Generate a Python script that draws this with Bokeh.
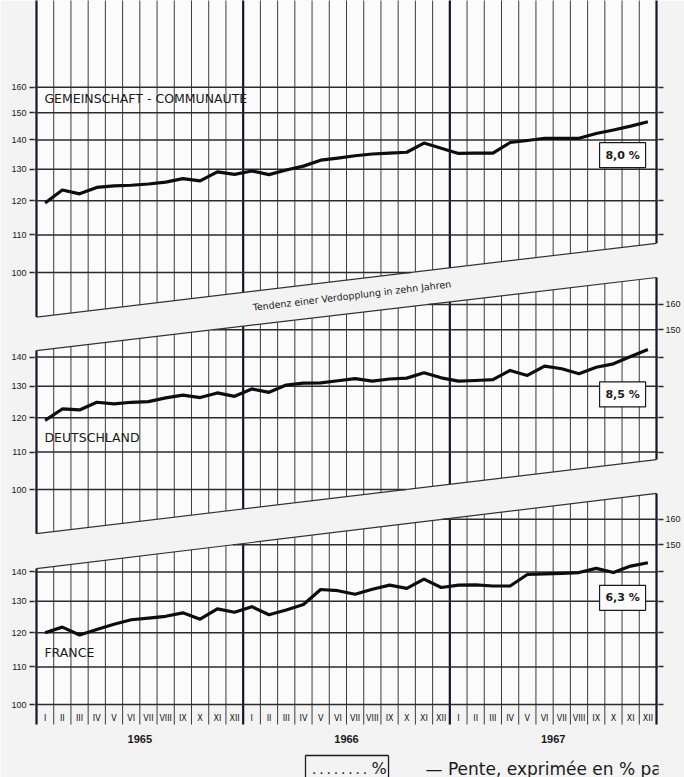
import math
from bokeh.plotting import figure
from bokeh.models import Range1d, FixedTicker, LinearAxis, Label
from bokeh.core.properties import value
from bokeh.embed import file_html
from bokeh.resources import INLINE

# ---------------- data ----------------
months = ["I", "II", "III", "IV", "V", "VI", "VII", "VIII", "IX", "X", "XI", "XII"] * 3
years = ["1965", "1966", "1967"]

gemeinschaft = [119.3, 123.3, 122.1, 124.1, 124.6, 124.8, 125.2, 125.8, 126.9, 126.2, 129.1, 128.3,
                129.4, 128.2, 129.7, 131.0, 133.0, 133.7, 134.5, 135.1, 135.4, 135.7, 138.9, 137.1,
                135.3, 135.4, 135.4, 139.1, 139.8, 140.6, 140.6, 140.6, 142.3, 143.6, 145.0, 146.6]
deutschland = [119.2, 122.7, 122.4, 124.8, 124.3, 124.8, 125.0, 126.2, 127.1, 126.3, 127.8, 126.7,
               129.1, 128.0, 130.4, 131.0, 131.1, 131.8, 132.5, 131.7, 132.4, 132.7, 134.5, 132.8,
               131.7, 131.9, 132.2, 135.3, 133.6, 136.8, 135.9, 134.2, 136.4, 137.6, 140.2, 142.7]
france = [120.0, 121.7, 119.3, 121.0, 122.6, 124.0, 124.5, 125.1, 126.2, 124.2, 127.5, 126.4,
          128.2, 125.6, 127.1, 128.9, 133.9, 133.5, 132.3, 134.0, 135.4, 134.3, 137.5, 134.6,
          135.4, 135.5, 135.1, 135.1, 139.1, 139.3, 139.5, 139.8, 141.3, 139.8, 142.1, 143.3]
series = [gemeinschaft, deutschland, france]

panel_names = ["GEMEINSCHAFT - COMMUNAUTE", "DEUTSCHLAND", "FRANCE"]
panel_name_level = [155.5, 114.1, 114.1]
slope_labels = ["8,0 %", "8,5 %", "6,3 %"]
slope_label_level = [134.7, 127.3, 131.1]

grid_levels = [100, 110, 120, 130, 140, 150, 160]
left_labels = [[100, 110, 120, 130, 140, 150, 160], [100, 110, 120, 130, 140], [100, 110, 120, 130, 140]]
right_labels = [[], [150, 160], [150, 160]]

# slanted panel edges ("Tendenz einer Verdopplung in zehn Jahren"), value at start / end of period
lower_edge = [[89.3, 107.7], [89.4, 107.9], [100.0, 100.0]]
upper_edge = [None, [142.3, 171.3], [141.2, 170.9]]

trend_text = "Tendenz einer Verdopplung in zehn Jahren"
legend_dots = ".\u2009.\u2009.\u2009.\u2009.\u2009.\u2009.\u2009."
legend_pct = "%"
legend_text = "\u2014 Pente, exprimée en % par an"

# ---------------- layout constants ----------------
N = 36
X0, X1 = -0.116, 36.116
Y_TOP, Y_BOT = 0.29989, -0.55678
panel_shift = [0.0, -0.2393, -0.4763]
LABEL_ROW_BOTTOM = -0.4984
MONTH_Y = -0.4917
YEAR_Y = -0.5138
LEGEND_Y = -0.5469
LEGEND_TOP = -0.5325

INK = "#1a1a1a"
GRID = "#2b2b2b"
VLINE = "#3c3c3c"


def Y(v, k):
    return math.log10(v / 100.0) + panel_shift[k]


def edge_log(edge, x):
    l0, l1 = math.log10(edge[0] / 100.0), math.log10(edge[1] / 100.0)
    return l0 + (l1 - l0) * x / N


p = figure(width=684, height=777, x_range=Range1d(X0, X1), y_range=Range1d(Y_BOT, Y_TOP),
           output_backend="svg", toolbar_location=None,
           x_axis_location=None, y_axis_location=None,
           min_border_left=34, min_border_right=26, min_border_top=0, min_border_bottom=0)
p.grid.visible = False
p.outline_line_color = None
p.background_fill_color = "#f3f3f3"
p.border_fill_color = "#f3f3f3"

# ---------------- panel fills ----------------
for k in range(3):
    lo = lower_edge[k]
    by = [math.log10(lo[0] / 100) + panel_shift[k], math.log10(lo[1] / 100) + panel_shift[k]]
    if upper_edge[k] is None:
        ty = [Y_TOP + 0.01, Y_TOP + 0.01]
    else:
        up = upper_edge[k]
        ty = [math.log10(up[0] / 100) + panel_shift[k], math.log10(up[1] / 100) + panel_shift[k]]
    p.patch([0, N, N, 0], [by[0], by[1], ty[1], ty[0]], fill_color="#fbfbfb", line_color=None)

# ---------------- vertical month lines ----------------
vx, vy, vw, vc = [], [], [], []
for k in range(3):
    for m in range(N + 1):
        if k == 2:
            bottom = LABEL_ROW_BOTTOM
        else:
            bottom = edge_log(lower_edge[k], m) + panel_shift[k]
        if upper_edge[k] is None:
            top = Y_TOP + 0.01
        else:
            top = edge_log(upper_edge[k], m) + panel_shift[k]
        heavy = m in (0, 12, 24, 36)
        vx.append([m, m])
        vy.append([bottom, top])
        vw.append(2.2 if heavy else 1.0)
        vc.append("#15152a" if heavy else VLINE)
p.multi_line(vx, vy, line_width=vw, line_color=vc)

# ---------------- horizontal grid lines ----------------
hx, hy = [], []
right_ticks, left_ticks = [], []
for k in range(3):
    for v in grid_levels:
        L = math.log10(v / 100.0)
        lo = lower_edge[k]
        l0, l1 = math.log10(lo[0] / 100), math.log10(lo[1] / 100)
        xmin, xmax = 0.0, float(N)
        if l1 != l0:
            xmax = min(xmax, N * (L - l0) / (l1 - l0))
        elif L < l0:
            continue
        if upper_edge[k] is not None:
            up = upper_edge[k]
            u0, u1 = math.log10(up[0] / 100), math.log10(up[1] / 100)
            xmin = max(xmin, N * (L - u0) / (u1 - u0))
        if xmax <= xmin:
            continue
        if xmin == 0.0:
            xmin = X0
            left_ticks.append((k, v))
        if xmax == float(N):
            xmax = X1
            right_ticks.append((k, v))
        hx.append([xmin, xmax])
        hy.append([Y(v, k), Y(v, k)])
p.multi_line(hx, hy, line_width=1.5, line_color=GRID)

# ---------------- slanted edges ----------------
ex, ey = [], []
for k in range(3):
    for edge in (lower_edge[k] if k < 2 else None, upper_edge[k]):
        if edge is None:
            continue
        ex.append([0, N])
        ey.append([math.log10(edge[0] / 100) + panel_shift[k], math.log10(edge[1] / 100) + panel_shift[k]])
p.multi_line(ex, ey, line_width=1.2, line_color="#333333")

# ---------------- data lines ----------------
xs = [m + 0.5 for m in range(N)]
for k, s in enumerate(series):
    p.line(xs, [Y(v, k) for v in s], line_width=3.2, line_color="#0d0d0d", line_join="round")

# ---------------- slope boxes ----------------
for k in range(3):
    yy = Y(slope_label_level[k], k)
    p.rect(x=[34.03], y=[yy], width=46, height=25, width_units="screen", height_units="screen",
           fill_color="#fdfdfd", line_color=INK, line_width=1.2)
    p.text(x=[34.03], y=[yy], text=[slope_labels[k]], text_align="center", text_baseline="middle",
           text_font=value("DejaVu Sans"), text_font_style="bold", text_font_size="11px", text_color=INK)

# ---------------- panel names ----------------
for k in range(3):
    p.text(x=[0.46], y=[Y(panel_name_level[k], k)], text=[panel_names[k]], text_align="left",
           text_baseline="middle", text_font=value("DejaVu Sans"), text_font_size="12.5px", text_color=INK)

# ---------------- trend band text ----------------
p.text(x=[18.32], y=[-0.0254], text=[trend_text], angle=0.1185, text_align="center",
       text_baseline="middle", text_font=value("DejaVu Sans"), text_font_size="9.5px", text_color=INK)

# ---------------- month & year labels ----------------
p.text(x=xs, y=[MONTH_Y] * N, text=months, text_align="center", text_baseline="middle",
       text_font=value("DejaVu Sans"), text_font_size="8px", text_color="#111111")
p.text(x=[6, 18, 30], y=[YEAR_Y] * 3, text=years, text_align="center", text_baseline="middle",
       text_font=value("Liberation Sans"), text_font_style="bold", text_font_size="11px", text_color=INK)

# ---------------- legend ----------------
p.multi_line([[15.62, 20.44], [15.62, 15.62], [20.44, 20.44]],
             [[LEGEND_TOP, LEGEND_TOP], [LEGEND_TOP, Y_BOT], [LEGEND_TOP, Y_BOT]],
             line_width=1.3, line_color=INK)
p.add_layout(Label(x=16.0, y=LEGEND_Y, text=legend_dots, text_baseline="alphabetic",
                   text_font="DejaVu Sans", text_font_size="14px", text_color=INK))
p.add_layout(Label(x=19.45, y=LEGEND_Y, text=legend_pct, text_baseline="alphabetic",
                   text_font="DejaVu Sans", text_font_size="16px", text_color=INK))
p.add_layout(Label(x=22.59, y=LEGEND_Y, text=legend_text, text_baseline="alphabetic",
                   text_font="DejaVu Sans", text_font_size="17px", text_color=INK))

# ---------------- axes (tick labels) ----------------
lt = [Y(v, k) for (k, v) in left_ticks]
lo_over = {Y(v, k): (str(v) if v in left_labels[k] else "") for (k, v) in left_ticks}
left_axis = LinearAxis(ticker=FixedTicker(ticks=lt, minor_ticks=[]), major_label_overrides=lo_over,
                       axis_line_color=None, major_tick_out=5, major_tick_in=0,
                       major_tick_line_width=1.4, major_tick_line_color=GRID,
                       minor_tick_line_color=None, major_label_standoff=3,
                       major_label_text_font="Liberation Sans", major_label_text_font_size="9px",
                       major_label_text_color=INK)
p.add_layout(left_axis, "left")

rt = [Y(v, k) for (k, v) in right_ticks]
ro_over = {Y(v, k): (str(v) if v in right_labels[k] else "") for (k, v) in right_ticks}
right_axis = LinearAxis(ticker=FixedTicker(ticks=rt, minor_ticks=[]), major_label_overrides=ro_over,
                        axis_line_color=None, major_tick_out=5, major_tick_in=0,
                        major_tick_line_width=1.4, major_tick_line_color=GRID,
                        minor_tick_line_color=None, major_label_standoff=2,
                        major_label_text_font="Liberation Sans", major_label_text_font_size="9px",
                        major_label_text_color=INK)
p.add_layout(right_axis, "right")

open("out.html", "w").write(file_html(p, INLINE))
